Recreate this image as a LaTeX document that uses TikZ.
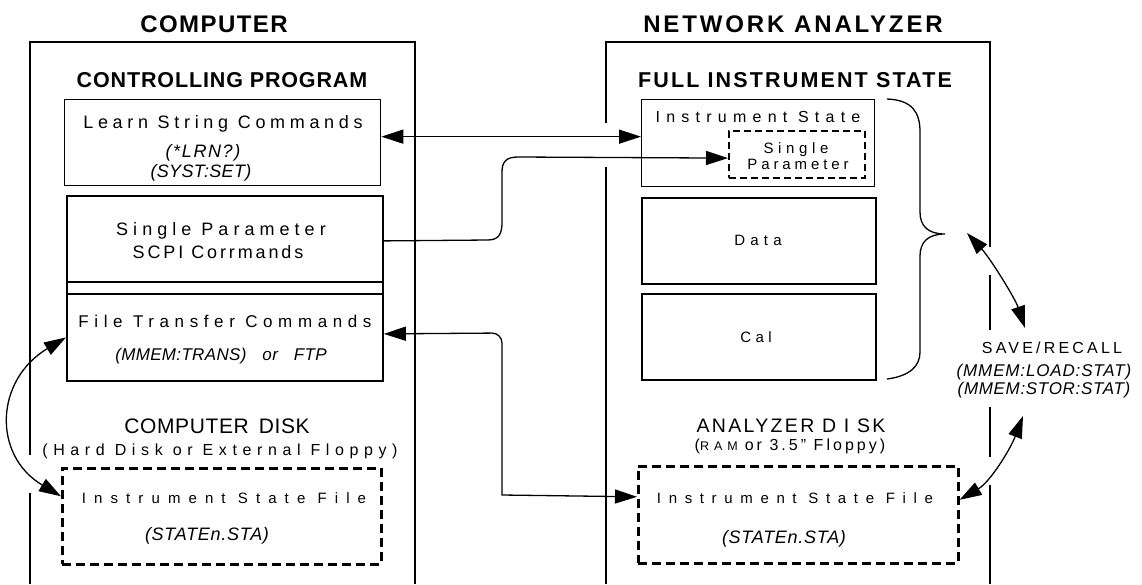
\documentclass[tikz,border=0pt]{standalone}
\usepackage{fontspec}
\setmainfont{Liberation Sans}
\usetikzlibrary{arrows.meta}
\newcommand{\tx}[3]{{\fontsize{#1}{#1}\selectfont\addfontfeatures{LetterSpace=#2}#3}}
\newcommand{\txi}[3]{{\fontsize{#1}{#1}\selectfont\itshape\addfontfeatures{LetterSpace=#2}#3}}
\newcommand{\txb}[3]{{\fontsize{#1}{#1}\selectfont\bfseries\addfontfeatures{LetterSpace=#2}#3}}
\begin{document}
\begin{tikzpicture}[x=1pt,y=-1pt,
  box/.style={draw, line width=1.8pt, inner sep=0, anchor=north west},
  thinbox/.style={draw, line width=1.3pt, inner sep=0, anchor=north west},
  dbox/.style={draw, line width=2.6pt, dash pattern=on 9pt off 5pt, inner sep=0, anchor=north west},
  sdbox/.style={draw, line width=2.2pt, dash pattern=on 7pt off 4pt, inner sep=0, anchor=north west},
  lbl/.style={inner sep=0, anchor=base},
  frame/.style={line width=2pt},
  con/.style={line width=1.3pt},
  dbl/.style={con, {Triangle[length=22pt,width=14pt]}-{Triangle[length=22pt,width=14pt]}},
  one/.style={con, -{Triangle[length=22pt,width=14pt]}}]
\useasboundingbox (0,0) rectangle (1142,584);

% titles
\node[lbl] (tcomp) at (214,32) {\txb{24}{6}{COMPUTER}};
\node[lbl] (tna) at (793,32) {\txb{24}{12}{NETWORK ANALYZER}};

% outer frames
\draw[frame] (30,455) -- (30,42) -- (415,42) -- (415,584);
\draw[frame] (30,493) -- (30,584);
\draw[frame] (606,123) -- (606,42) -- (990,42) -- (990,247);
\draw[frame] (606,167) -- (606,584);
\draw[frame] (990,275) -- (990,330);
\draw[frame] (990,407) -- (990,457);
\draw[frame] (990,485) -- (990,584);

% left side
\node[lbl] (tctrl) at (222,87) {\txb{21.5}{4}{CONTROLLING PROGRAM}};
\node[thinbox, minimum width=316pt, minimum height=86pt] (learn) at (64,99) {};
\node[lbl] (learn1) at (223,128) {\tx{18}{26}{Learn String Commands}};
\node[lbl] (learn2) at (203,157) {\txi{18}{9}{(*LRN?)}};
\node[lbl] (learn3) at (201,177) {\txi{18}{2}{(SYST:SET)}};

\node[box, minimum width=316pt, minimum height=86pt] (single) at (66,195) {};
\node[lbl] (single1) at (221,235) {\tx{18}{28}{Single Parameter}};
\node[lbl] (single2) at (218,258) {\tx{18}{16}{SCP\kern3pt I Corrmands}};

\node[box, minimum width=316pt, minimum height=99pt] (ftrans) at (66,281) {};
\draw[line width=1.3pt] ([yshift=-13pt]ftrans.north west) -- ([yshift=-13pt]ftrans.north east);
\node[lbl] (ftrans1) at (225,327) {\tx{17}{33}{File Transfer Commands}};
\node[lbl] (ftrans2) at (221,360) {\txi{17}{2}{(MMEM:TRANS)\hspace{16pt}or\hspace{16pt}FTP}};

\node[lbl] (cdisk1) at (217,433) {\tx{21}{3}{COMPUTER\hspace{10pt}DISK}};
\node[lbl] (cdisk2) at (220,455) {\tx{16}{35}{(Hard Disk or External Floppy)}};
\node[dbox, minimum width=319pt, minimum height=96pt] (cdash) at (61,467) {};
\node[lbl] (cdash1) at (224,503) {\tx{15}{54}{Instrument State File}};
\node[lbl] (cdash2) at (207,540) {\txi{18}{4}{(STATEn.STA)}};

% right side
\node[lbl] (tfull) at (795,87) {\txb{21.5}{10}{FULL INSTRUMENT STATE}};
\node[thinbox, minimum width=233pt, minimum height=87pt] (istate) at (641,99) {};
\node[lbl] (istate1) at (758,122) {\tx{16}{39}{Instrument State}};
\node[sdbox, minimum width=136pt, minimum height=47pt] (spd) at (728,130) {};
\node[lbl] (spd1) at (796,153) {\tx{15}{31}{Single}};
\node[lbl] (spd2) at (798,169) {\tx{15}{26}{Parameter}};

\node[box, minimum width=234pt, minimum height=86pt] (data) at (641,197) {};
\node[lbl] (data1) at (758,245) {\tx{15}{35}{Data}};
\node[box, minimum width=234pt, minimum height=86pt] (cal) at (641,293) {};
\node[lbl] (cal1) at (756,342) {\tx{15}{30}{Cal}};

\node[lbl] (adisk1) at (791,432) {\tx{19.5}{12}{ANALYZER D I SK}};
\node[lbl] (adisk2) at (790,450) {\tx{16}{19}{(}\tx{12.5}{40}{RAM}\hspace{7pt}\tx{16}{19}{or 3.5" Floppy)}};
\node[dbox, minimum width=320pt, minimum height=97pt] (adash) at (637,465) {};
\node[lbl] (adash1) at (795,503) {\tx{15}{51}{Instrument State File}};
\node[lbl] (adash2) at (784,543) {\txi{18}{4}{(STATEn.STA)}};

\node[lbl] (save1) at (1052,353) {\tx{16}{20}{SAVE/RECALL}};
\node[lbl] (save2) at (1044,376) {\txi{17}{5}{(MMEM:LOAD:STAT)}};
\node[lbl] (save3) at (1044,394) {\txi{17}{4}{(MMEM:STOR:STAT)}};

% brace
\draw[line width=1.3pt] (887,99) .. controls (912,100) and (920,112) .. (920,132) -- (920,212)
  .. controls (920,226) and (928,234) .. (945,234)
  .. controls (928,234) and (920,242) .. (920,256) -- (920,352)
  .. controls (920,366) and (910,376) .. (887,379);

% connectors
\draw[dbl] ([yshift=6pt]learn.east) -- ([yshift=6.5pt]istate.west);
\draw[one] ([yshift=-2pt]single.east) -- (488,240)
  .. controls (500,240) and (502,232) .. (502,222) -- (502,172)
  .. controls (502,162) and (506,157) .. (518,157) -- ([yshift=-3.5pt]spd.west);
\draw[dbl] ([yshift=-2.5pt]ftrans.east) [rounded corners=10pt] -- (502,333) [sharp corners] -- (502,495) -- ([yshift=18pt]adash.west);
\draw[dbl] ([yshift=-6pt]ftrans.west) .. controls (-5,380) and (-8,455) .. ([yshift=20pt]cdash.west);
\coordinate (bt) at (967,233);
\coordinate (s1) at (1025,328);
\coordinate (s2) at (1023,416);
\draw[dbl] (bt) .. controls (990,258) and (1015,298) .. (s1);
\draw[dbl] (s2) .. controls (1010,450) and (990,482) .. ([yshift=15pt]adash.east);
\end{tikzpicture}
\end{document}
